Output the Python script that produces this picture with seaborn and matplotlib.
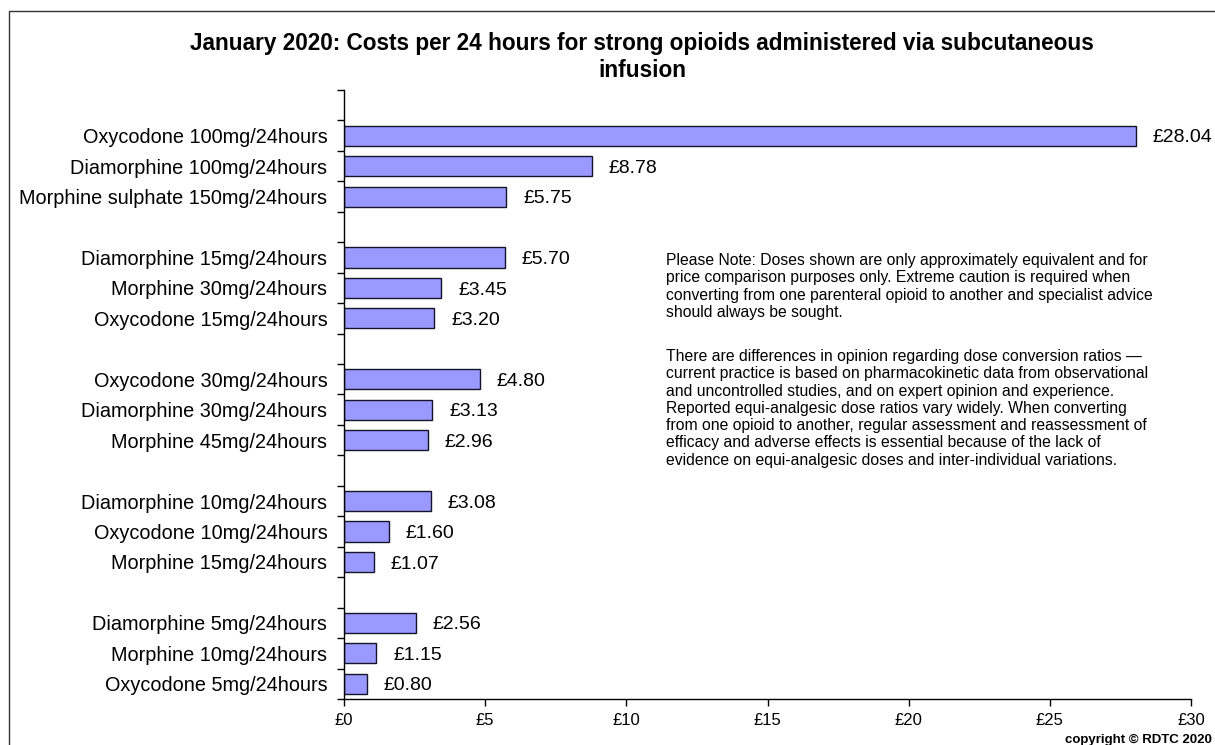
import matplotlib
matplotlib.use("Agg")
import matplotlib.pyplot as plt
from matplotlib.patches import Rectangle
import seaborn as sns
import pandas as pd

# Preparations, listed top to bottom, in their dose-equivalent groups
groups = [
    ["Oxycodone 100mg/24hours", "Diamorphine 100mg/24hours", "Morphine sulphate 150mg/24hours"],
    ["Diamorphine 15mg/24hours", "Morphine 30mg/24hours", "Oxycodone 15mg/24hours"],
    ["Oxycodone 30mg/24hours", "Diamorphine 30mg/24hours", "Morphine 45mg/24hours"],
    ["Diamorphine 10mg/24hours", "Oxycodone 10mg/24hours", "Morphine 15mg/24hours"],
    ["Diamorphine 5mg/24hours", "Morphine 10mg/24hours", "Oxycodone 5mg/24hours"],
]
# Cost per 24 hours (GBP), same order as above
costs = [
    [28.04, 8.78, 5.75],
    [5.70, 3.45, 3.20],
    [4.80, 3.13, 2.96],
    [3.08, 1.60, 1.07],
    [2.56, 1.15, 0.80],
]
x_ticks = [0, 5, 10, 15, 20, 25, 30]

title_lines = ["January 2020: Costs per 24 hours for strong opioids administered via subcutaneous",
               "infusion"]
note_par1 = ["Please Note: Doses shown are only approximately equivalent and for",
             "price comparison purposes only. Extreme caution is required when",
             "converting from one parenteral opioid to another and specialist advice",
             "should always be sought."]
note_par2 = ["There are differences in opinion regarding dose conversion ratios \u2014",
             "current practice is based on pharmacokinetic data from observational",
             "and uncontrolled studies, and on expert opinion and experience.",
             "Reported equi-analgesic dose ratios vary widely. When converting",
             "from one opioid to another, regular assessment and reassessment of",
             "efficacy and adverse effects is essential because of the lack of",
             "evidence on equi-analgesic doses and inter-individual variations."]

# Long-form table; blank spacer slots separate the groups
names, values, order = [], [], []
for i, (g, c) in enumerate(zip(groups, costs)):
    order.append(" " * (i + 1))
    names.extend(g)
    values.extend(c)
    order.extend(g)
df = pd.DataFrame({"item": names, "cost": values})

sns.set_style("white")
plt.rcParams["font.family"] = ["Liberation Sans", "DejaVu Sans"]
plt.rcParams["text.color"] = "black"
plt.rcParams["xtick.color"] = "black"
plt.rcParams["ytick.color"] = "black"
plt.rcParams["axes.labelcolor"] = "black"

W, H = 1215, 745
fig = plt.figure(figsize=(W / 100, H / 100), dpi=100)
ax = fig.add_axes([344 / W, 1 - 699 / H, (1191 - 344) / W, (699 - 90) / H])

sns.barplot(data=df, x="cost", y="item", order=order, orient="h",
            color="#9999FF", saturation=1, width=0.66,
            edgecolor="#15152a", linewidth=1.0, ax=ax)

n = len(order)
ax.set_ylim(n - 0.5, -0.5)
ax.set_xlim(0, 30)
ax.set_xticks(x_ticks)
ax.set_xticklabels([f"\u00a3{v}" for v in x_ticks], fontsize=12)
ax.set_xlabel("")
ax.set_ylabel("")

# category names at slot centres, tick marks on slot boundaries
ax.set_yticks(range(n))
ax.set_yticklabels(order, fontsize=14.3)
ax.tick_params(axis="y", which="major", length=0, pad=12)
ax.set_yticks([k - 0.5 for k in range(n + 1)], minor=True)
ax.tick_params(axis="y", which="minor", length=5, width=1, direction="out", left=True, color="black")
ax.tick_params(axis="x", which="major", length=5, width=1, direction="out", bottom=True, color="black", pad=5)

for s in ["top", "right"]:
    ax.spines[s].set_visible(False)
for s in ["left", "bottom"]:
    ax.spines[s].set_color("black")
    ax.spines[s].set_linewidth(1.0)

# value labels at the end of each bar
for cont in ax.containers:
    for bar, v in zip(cont, cont.datavalues):
        ax.annotate(f"\u00a3{v:.2f}", xy=(v, bar.get_y() + bar.get_height() / 2),
                    xytext=(12, -1.5), textcoords="offset points",
                    ha="left", va="center", fontsize=14, color="black")

# title, two centred lines
for line, base in zip(title_lines, [50, 77]):
    fig.text(642 / W, 1 - base / H, line, ha="center", va="baseline",
             fontsize=16.3, fontweight="bold")

# explanatory note
for k, line in enumerate(note_par1):
    fig.text(666 / W, 1 - (265 + 17.3 * k) / H, line, ha="left", va="baseline", fontsize=11.3)
for k, line in enumerate(note_par2):
    fig.text(666 / W, 1 - (361 + 17.3 * k) / H, line, ha="left", va="baseline", fontsize=11.3)

fig.text(1212 / W, 1 - 743 / H, "copyright \u00a9 RDTC 2020", ha="right",
         va="baseline", fontsize=9.5, fontweight="bold")

# outer chart border
fig.patches.append(Rectangle((9 / W, -0.2), 1.2, 1 - 11 / H + 0.2,
                             transform=fig.transFigure, fill=False,
                             edgecolor="#333333", linewidth=1.0))

fig.savefig("out.png", dpi=100, facecolor="white")
